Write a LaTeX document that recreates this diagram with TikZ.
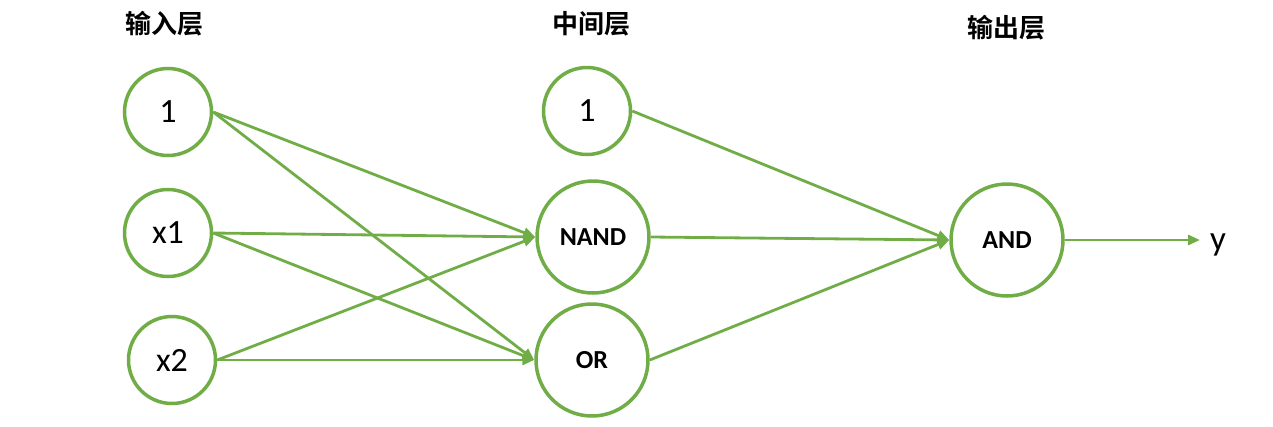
\documentclass[tikz,border=0pt]{standalone}
\usepackage{fontspec}
\setmainfont{Carlito}
\newfontfamily\cjk{Noto Sans CJK SC Bold}
\usetikzlibrary{arrows.meta}
\definecolor{gr}{HTML}{70AD47}
\tikzset{
  neuron/.style={circle, draw=gr, line width=3.5pt, fill=white, inner sep=0pt},
  small/.style={neuron, minimum size=87pt, font=\fontsize{34}{38}\selectfont},
  big/.style={neuron, minimum size=112pt, font=\bfseries\fontsize{26}{30}\selectfont},
  layer/.style={font=\cjk\fontsize{26}{30}\selectfont},
  conn/.style={draw=gr, line width=2.8pt, -{Triangle[length=12pt,width=10pt]}}
}
\begin{document}
\begin{tikzpicture}[x=1pt,y=-1pt]
\useasboundingbox (0,0) rectangle (1273,426);
\node[layer] (l1) at (164,24) {输入层};
\node[layer] (l2) at (591,24) {中间层};
\node[layer] (l3) at (1006,28) {输出层};
\node[small] (in1) at (168,112) {1};
\node[small] (x1) at (168,233) {x1};
\node[small] (x2) at (172,360) {x2};
\node[small] (m1) at (587,111) {1};
\node[big] (nand) at (593,237) {NAND};
\node[big] (or) at (592,360) {OR};
\node[big] (and) at (1007,240) {AND};
\node[anchor=base west, inner sep=0pt, font=\fontsize{35}{38}\selectfont] (y) at (1210,250) {y};
\draw[conn] (in1.east) -- (nand.west);
\draw[conn] (in1.east) -- (or.west);
\draw[conn] (x1.east) -- (nand.west);
\draw[conn] (x1.east) -- (or.west);
\draw[conn] (x2.east) -- (nand.west);
\draw[conn] (x2.east) -- (or.west);
\draw[conn] (m1.east) -- (and.west);
\draw[conn] (nand.east) -- (and.west);
\draw[conn] (or.east) -- (and.west);
\draw[conn, shorten >=10pt] (and.east) -- (and.east -| y.west);
\end{tikzpicture}
\end{document}
